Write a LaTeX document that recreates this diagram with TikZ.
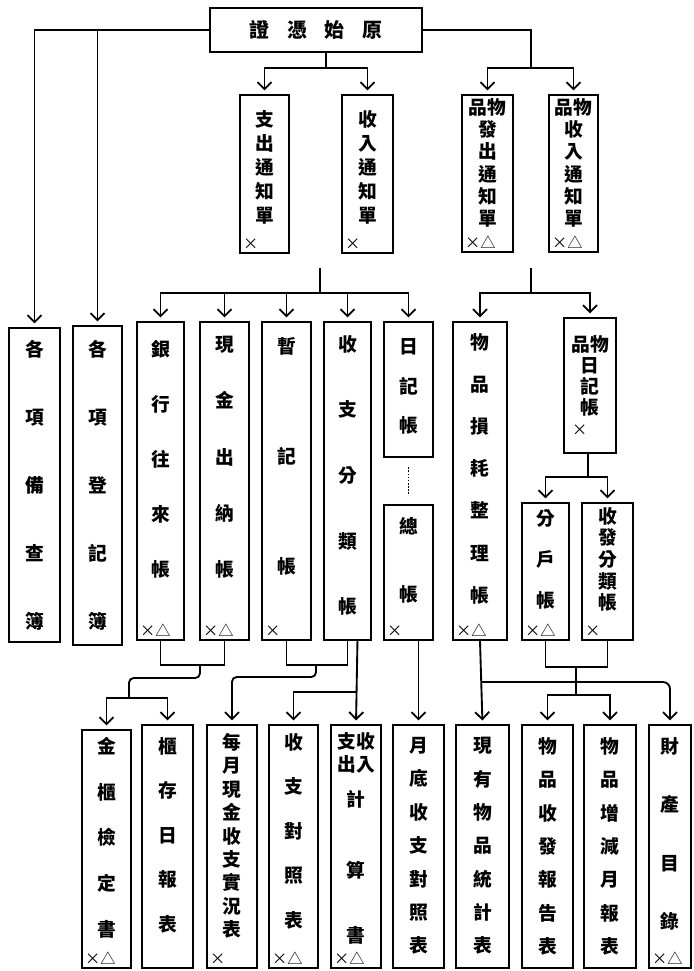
\documentclass[tikz,border=0pt]{standalone}
\usepackage{fontspec}
\newfontfamily\cjk{Noto Sans CJK TC}
\usetikzlibrary{arrows.meta}

% name, x1, y1, x2, y2, centre of first sign, line step (pt), text, marks
\newcommand{\ledger}[9]{%
  \node[box, minimum width={(#4-#2)*0.03cm}, minimum height={(#5-#3)*0.03cm}]
    (#1) at ({(#2+#4)/2},{(#3+#5)/2}) {};
  \node[ledgertext, font=\cjk\fontsize{16}{#7}\selectfont\bfseries]
    (#1-t) at ({(#2+#4)/2},{#6-10}) {#8};
  \node[marks] (#1-m) at ([shift={(4,-4)}]#1.south west) {#9};
}

\begin{document}
\begin{tikzpicture}[x=0.03cm, y=-0.03cm,
    box/.style={draw, line width=1.8pt, inner sep=0pt},
    ledgertext/.style={inner sep=0pt, align=center, anchor=north},
    marks/.style={inner sep=0pt, anchor=south west, font=\cjk\fontsize{13}{13}\selectfont},
    link/.style={line width=1.6pt},
    flow/.style={link, -{Straight Barb[length=6pt, width=12pt]}, shorten >=3pt}]
  \useasboundingbox (0,0) rectangle (693,971);

  % source documents
  \node[box, minimum width=212*0.03cm, minimum height=44*0.03cm,
    font=\cjk\fontsize{17}{17}\selectfont\bfseries] (src) at (316,30)
    {證\hspace{0.9em}憑\hspace{0.9em}始\hspace{0.9em}原};

  % notices
  \ledger{zhichu}{240}{95}{289}{253}{120}{20.5}{支\\出\\通\\知\\單}{×}
  \ledger{shouru}{342}{95}{393}{253}{120}{20.5}{收\\入\\通\\知\\單}{×}
  \ledger{wufa}{462}{95}{513}{252}{108}{19}{品物\\發\\出\\通\\知\\單}{×△}
  \ledger{wushou}{549}{95}{598}{252}{108}{19}{品物\\收\\入\\通\\知\\單}{×△}

  % books
  \ledger{beicha}{9}{328}{60}{642}{350}{58}{各\\項\\備\\查\\簿}{}
  \ledger{dengji}{73}{326}{122}{645}{350}{58}{各\\項\\登\\記\\簿}{}
  \ledger{yinhang}{137}{322}{184}{640}{350}{47}{銀\\行\\往\\來\\帳}{×△}
  \ledger{xianjin}{200}{322}{249}{640}{346}{48}{現\\金\\出\\納\\帳}{×△}
  \ledger{zanji}{262}{322}{311}{640}{347}{94}{暫\\記\\帳}{×}
  \ledger{fenlei}{324}{322}{371}{640}{345}{56}{收\\支\\分\\類\\帳}{}
  \ledger{riji}{384}{322}{433}{457}{348}{34}{日\\記\\帳}{}
  \ledger{zong}{384}{505}{433}{640}{527}{58}{總\\帳}{×}
  \ledger{sunhao}{453}{322}{507}{640}{343}{36}{物\\品\\損\\耗\\整\\理\\帳}{×△}
  \ledger{wuriji}{564}{318}{616}{453}{345}{18}{品物\\日\\記\\帳}{}
  \node[marks, anchor=west] (wuriji-x) at (572,430) {×};
  \ledger{fenhu}{522}{503}{569}{640}{520}{35}{分\\戶\\帳}{×△}
  \ledger{shoufa}{582}{503}{633}{640}{517}{18.5}{收\\發\\分\\類\\帳}{×}

  % reports
  \ledger{jingui}{82}{730}{131}{968}{747}{39}{金\\櫃\\檢\\定\\書}{×△}
  \ledger{guicun}{142}{725}{193}{968}{747}{38}{櫃\\存\\日\\報\\表}{}
  \ledger{meiyue}{207}{725}{257}{968}{743}{20}{每\\月\\現\\金\\收\\支\\實\\況\\表}{×}
  \ledger{duizhao}{269}{725}{318}{968}{743}{38}{收\\支\\對\\照\\表}{×△}
  \ledger{jisuan}{331}{725}{381}{968}{742}{20}{支收\\出入\\[10pt]計\\[40pt]算\\[36pt]書}{×△}
  \ledger{yuedi}{393}{725}{444}{968}{747}{28.5}{月\\底\\收\\支\\對\\照\\表}{}
  \ledger{xianyou}{456}{725}{509}{968}{747}{28.5}{現\\有\\物\\品\\統\\計\\表}{}
  \ledger{shoufabg}{522}{725}{573}{968}{747}{28.5}{物\\品\\收\\發\\報\\告\\表}{}
  \ledger{zengjian}{584}{725}{636}{968}{747}{28.5}{物\\品\\增\\減\\月\\報\\表}{}
  \ledger{caichan}{649}{725}{691}{968}{747}{50}{財\\產\\目\\錄}{×△}

  % junctions
  \coordinate (c1) at (326,68);
  \coordinate (c2) at (531,68);
  \coordinate (c3top) at (320,268);
  \coordinate (c3) at (320,293);
  \coordinate (c4top) at (531,268);
  \coordinate (c4) at (531,293);
  \coordinate (c5) at (588,477);
  \coordinate (m1) at (200,665);
  \coordinate (m1b) at (129,698);
  \coordinate (m2) at (316,665);
  \coordinate (m3) at (357,692);
  \coordinate (m4) at (481,682);
  \coordinate (m5) at (576,667);
  \coordinate (m5b) at (576,695);

  % top level
  \draw[flow] (src.west) -| (beicha.north);
  \draw[flow] (src.west) -| (dengji.north);
  \draw[link] (src.south -| c1) -- (c1);
  \draw[flow] (c1) -| (zhichu.north);
  \draw[flow] (c1) -| (shouru.north);
  \draw[link] (src.east) -| (c2);
  \draw[flow] (c2) -| (wufa.north);
  \draw[flow] (c2) -| (wushou.north);

  % notices to books
  \draw[link] (c3top) -- (c3);
  \foreach \bk in {yinhang, xianjin, zanji, fenlei, riji}
    \draw[flow] (c3) -| (\bk.north);
  \draw[link] (c4top) -- (c4);
  \draw[flow] (c4) -| (sunhao.north);
  \draw[flow] (c4) -| (wuriji.north);
  \draw[link, densely dotted, shorten <=8pt, shorten >=8pt] (riji.south) -- (zong.north);
  \draw[link] (wuriji.south -| c5) -- (c5);
  \draw[flow] (c5) -| (fenhu.north);
  \draw[flow] (c5) -| (shoufa.north);

  % books to reports
  \draw[link] (yinhang.south) |- (m1) -| (xianjin.south);
  \draw[link, rounded corners=4pt] (m1) -- ++(0,13) -| (m1b);
  \draw[flow] (m1b) -| (jingui.north);
  \draw[flow] (m1b) -| (guicun.north);
  \draw[link] (zanji.south) |- (m2) -| (fenlei.south);
  \draw[flow, rounded corners=4pt] (m2) -- ++(0,12) -| (meiyue.north);
  \draw[flow] ([xshift=8.5pt]fenlei.south) -- (jisuan.north);
  \draw[flow] (m3) -| (duizhao.north);
  \draw[flow] (zong.south -| yuedi.north) -- (yuedi.north);
  \draw[flow] (sunhao.south) -- (xianyou.north);
  \draw[flow, rounded corners=6pt] (m4) -| (caichan.north);
  \draw[link] (fenhu.south) |- (m5) -| (shoufa.south);
  \draw[link] (m5) -- (m5b);
  \draw[flow] (m5b) -| (shoufabg.north);
  \draw[flow] (m5b) -| (zengjian.north);
\end{tikzpicture}
\end{document}
